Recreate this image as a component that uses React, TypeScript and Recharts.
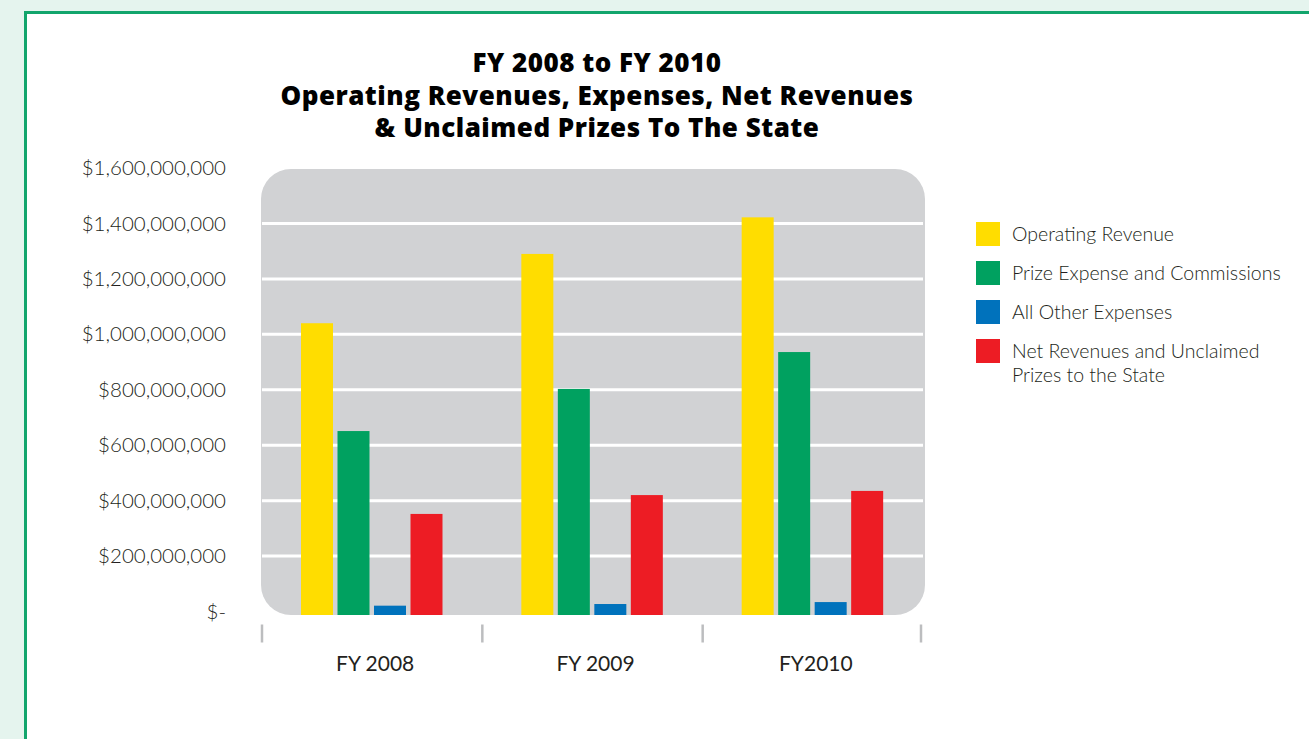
import { BarChart, Bar, XAxis, YAxis, CartesianGrid } from "recharts";

// Fiscal years on the category axis
const categories = ["FY 2008", "FY 2009", "FY2010"];

// Series values (dollars)
const operatingRevenue = [1040000000, 1290000000, 1422000000];
const prizeExpense = [651000000, 803000000, 936000000];
const otherExpenses = [21000000, 27000000, 34000000];
const netRevenues = [352000000, 420000000, 435000000];

// Y axis ticks and the white grid lines
const yTicks = [0, 200000000, 400000000, 600000000, 800000000, 1000000000, 1200000000, 1400000000, 1600000000];
const gridValues = [200000000, 400000000, 600000000, 800000000, 1000000000, 1200000000, 1400000000];

const series = [
  { key: "operating", name: ["Operating Revenue"], color: "#ffdd00" },
  { key: "prize", name: ["Prize Expense and Commissions"], color: "#00a160" },
  { key: "other", name: ["All Other Expenses"], color: "#0072bc" },
  { key: "net", name: ["Net Revenues and Unclaimed", "Prizes to the State"], color: "#ed1c24" },
];

const data = categories.map((c, i) => ({
  name: c,
  operating: operatingRevenue[i],
  prize: prizeExpense[i],
  other: otherExpenses[i],
  net: netRevenues[i],
}));

const W = 1309;
const H = 739;
const PLOT_LEFT = 262;
const PLOT_RIGHT = 923;
const PLOT_TOP = 168;
const PLOT_BOTTOM = 611.5;
const X_AXIS_H = 60;
const Y_AXIS_W = 200;
const BAND = (PLOT_RIGHT - PLOT_LEFT) / categories.length;

const tickFont = "Lato, 'Open Sans', sans-serif";

const formatDollar = (v: number) => (v === 0 ? "$-" : "$" + v.toLocaleString("en-US"));

// bars in the original run a few px past the zero line
const BarShape = (props: any) => {
  const { x, y, width, height, fill } = props;
  if (width == null || height == null) return null;
  return <rect x={x} y={y} width={width} height={Math.max(0, height) + 3.5} fill={fill} />;
};

const XTick = (props: any) => {
  const { x, y, payload, index } = props;
  const left = x - BAND / 2;
  const right = x + BAND / 2;
  return (
    <g>
      <line x1={left} x2={left} y1={y + 11} y2={y + 29} stroke="#bcbdbf" strokeWidth={2.5} />
      {index === categories.length - 1 && (
        <line x1={right - 2} x2={right - 2} y1={y + 11} y2={y + 29} stroke="#bcbdbf" strokeWidth={2.5} />
      )}
      <text
        x={x + 3}
        y={y + 57}
        textAnchor="middle"
        fontFamily={tickFont}
        fontSize={21}
        fill="#231f20"
      >
        {payload.value}
      </text>
    </g>
  );
};

const YTick = (props: any) => {
  const { x, y, payload } = props;
  return (
    <text
      x={x}
      y={y + 2}
      textAnchor="end"
      dominantBaseline="middle"
      fontFamily={tickFont}
      fontWeight={300}
      fontSize={20.5}
      fill="#231f20"
    >
      {formatDollar(payload.value)}
    </text>
  );
};

export default function App() {
  return (
    <div
      style={{
        position: "absolute",
        left: 0,
        top: 0,
        width: W,
        height: H,
        background: "#e5f4ee",
        overflow: "hidden",
      }}
    >
      {/* white panel with green border, running off the right and bottom */}
      <div
        style={{
          position: "absolute",
          left: 24,
          top: 11,
          width: W,
          height: H + 40,
          background: "#fff",
          border: "3px solid #12a56c",
        }}
      />

      {/* title */}
      <div
        style={{
          position: "absolute",
          left: 197,
          top: 46,
          width: 800,
          textAlign: "center",
          fontFamily: "'Open Sans', Lato, sans-serif",
          fontWeight: 800,
          fontSize: 26,
          letterSpacing: 0.5,
          lineHeight: "32.5px",
          color: "#000",
        }}
      >
        <div>FY 2008 to FY 2010</div>
        <div>Operating Revenues, Expenses, Net Revenues</div>
        <div>&amp; Unclaimed Prizes To The State</div>
      </div>

      {/* rounded grey plot background */}
      <div
        style={{
          position: "absolute",
          left: 261,
          top: 169,
          width: 664,
          height: 446,
          background: "#d1d2d4",
          borderRadius: 30,
        }}
      />

      <div style={{ position: "absolute", left: 0, top: 0 }}>
        <BarChart
          width={W}
          height={H}
          data={data}
          barSize={32}
          barGap={4.5}
          margin={{
            top: PLOT_TOP,
            right: W - PLOT_RIGHT,
            bottom: H - PLOT_BOTTOM - X_AXIS_H,
            left: PLOT_LEFT - Y_AXIS_W,
          }}
        >
          <CartesianGrid
            vertical={false}
            horizontalValues={gridValues}
            stroke="#ffffff"
            strokeWidth={3}
          />
          <XAxis
            dataKey="name"
            height={X_AXIS_H}
            axisLine={false}
            tickLine={false}
            tickSize={0}
            interval={0}
            tick={<XTick />}
          />
          <YAxis
            width={Y_AXIS_W}
            domain={[0, 1600000000]}
            ticks={yTicks}
            axisLine={false}
            tickLine={false}
            tickSize={0}
            tickMargin={36}
            interval={0}
            tick={<YTick />}
          />
          {series.map((s) => (
            <Bar
              key={s.key}
              dataKey={s.key}
              fill={s.color}
              shape={<BarShape />}
              isAnimationActive={false}
            />
          ))}
        </BarChart>
      </div>

      {/* legend */}
      <div
        style={{
          position: "absolute",
          left: 976,
          top: 222,
          fontFamily: tickFont,
          fontWeight: 300,
          fontSize: 19.5,
          color: "#231f20",
        }}
      >
        {series.map((s) => (
          <div key={s.key} style={{ display: "flex", alignItems: "flex-start", height: 39 }}>
            <div style={{ width: 24, height: 24, background: s.color, flexShrink: 0 }} />
            <div style={{ marginLeft: 12, lineHeight: "24px", marginTop: 0 }}>
              {s.name.map((line) => (
                <div key={line}>{line}</div>
              ))}
            </div>
          </div>
        ))}
      </div>
    </div>
  );
}
